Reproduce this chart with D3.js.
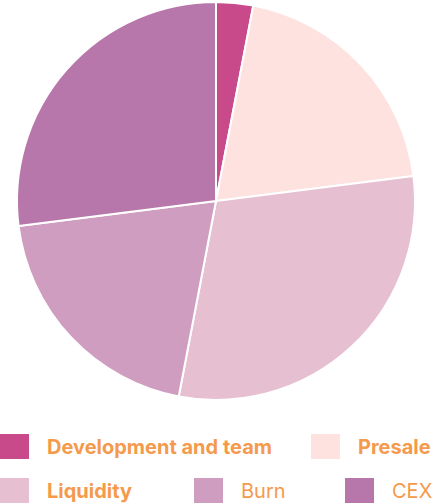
<!DOCTYPE html>
<html>
<head>
<meta charset="utf-8">
<script src="https://cdn.jsdelivr.net/npm/d3@7"></script>
<style>
  body { margin: 0; background: #fff; }
  svg { display: block; font-family: Inter, "Noto Sans", sans-serif; }
</style>
</head>
<body>
<svg id="chart" width="432" height="504"></svg>
<script>
// token split, percent
var labels = ["Development and team", "Presale", "Liquidity", "Burn", "CEX"];
var values = [3, 20, 30, 20, 27];
var colors = ["#c94a8a", "#fde2e0", "#e6bfd0", "#cf9dbf", "#b877ab"];
var boldLabel = [true, true, true, false, false];

var svg = d3.select("#chart");
var cx = 216, cy = 201, radius = 199;

var pie = d3.pie().sort(null).value(function(d) { return d; });
var arc = d3.arc().innerRadius(0).outerRadius(radius);

var g = svg.append("g").attr("transform", "translate(" + cx + "," + cy + ")");
g.selectAll("path")
  .data(pie(values))
  .enter().append("path")
    .attr("d", arc)
    .attr("fill", function(d, i) { return colors[i]; })
    .attr("stroke", "#fff")
    .attr("stroke-width", 2)
    .attr("stroke-linejoin", "round");

// legend, two rows
var legendPos = [
  {x: 0, y: 434}, {x: 311, y: 434},
  {x: 0, y: 478}, {x: 194, y: 478}, {x: 345, y: 478}
];
var item = svg.selectAll(".legend")
  .data(labels)
  .enter().append("g")
    .attr("class", "legend")
    .attr("transform", function(d, i) { return "translate(" + legendPos[i].x + "," + legendPos[i].y + ")"; });

item.append("rect")
  .attr("width", 29)
  .attr("height", 25)
  .attr("fill", function(d, i) { return colors[i]; });

item.append("text")
  .attr("x", 47)
  .attr("y", 20)
  .attr("fill", "#f59a4c")
  .attr("font-size", 20)
  .attr("font-weight", function(d, i) { return boldLabel[i] ? 700 : 400; })
  .text(function(d) { return d; });
</script>
</body>
</html>
